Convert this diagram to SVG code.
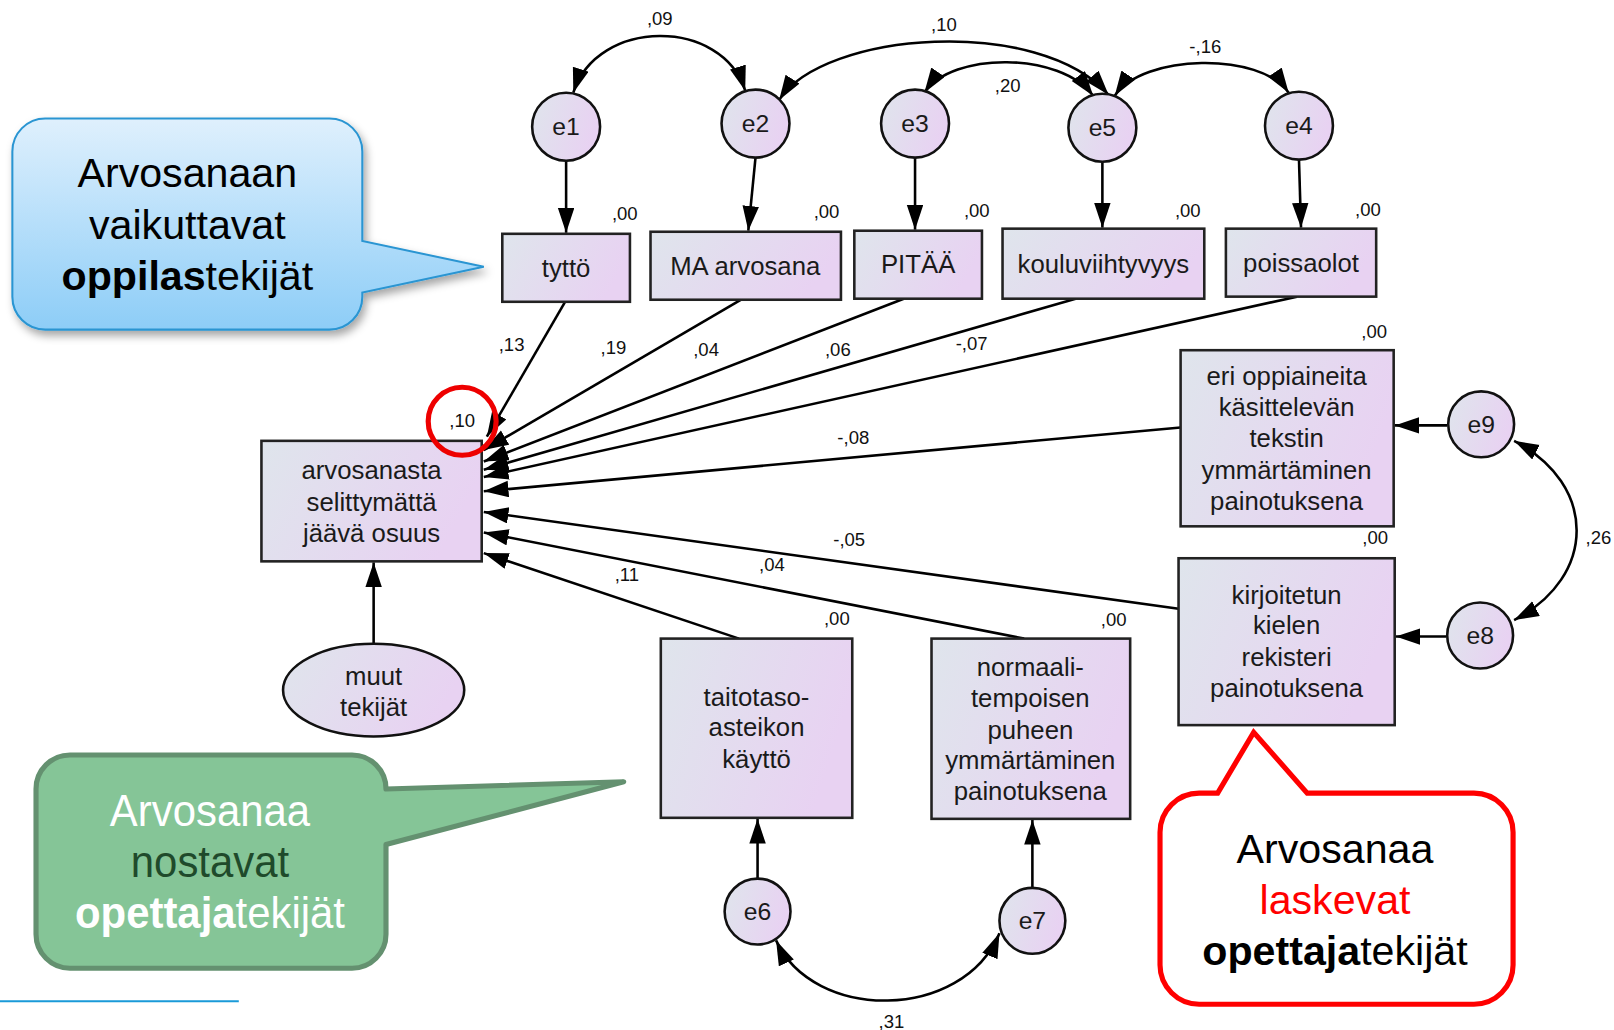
<svg xmlns="http://www.w3.org/2000/svg" width="1614" height="1030" viewBox="0 0 1614 1030">
<defs>
<linearGradient id="gNode" x1="0" y1="0" x2="1" y2="0.3">
<stop offset="0" stop-color="#dfe5ec"/>
<stop offset="1" stop-color="#e8d2f2"/>
</linearGradient>
<linearGradient id="gBlue" x1="0" y1="0" x2="0" y2="1">
<stop offset="0" stop-color="#dff0fd"/>
<stop offset="1" stop-color="#8dcdf7"/>
</linearGradient>
<filter id="sh" x="-10%" y="-10%" width="130%" height="130%">
<feDropShadow dx="3" dy="5" stdDeviation="4" flood-color="#000" flood-opacity="0.35"/>
</filter>
<marker id="ah" markerUnits="userSpaceOnUse" markerWidth="26" markerHeight="18" refX="24" refY="8" orient="auto-start-reverse">
<path d="M0,0 L24,8 L0,16 Z" fill="#000"/>
</marker>
</defs>
<style>
.box{fill:url(#gNode);stroke:#222;stroke-width:2.5}
.circ{fill:url(#gNode);stroke:#111;stroke-width:2.5}
.t{font-family:"Liberation Sans",Arial,sans-serif;font-size:25px;fill:#1a1a1a;text-anchor:middle}
.e{font-family:"Liberation Sans",Arial,sans-serif;font-size:24px;fill:#1a1a1a;text-anchor:middle}
.n{font-family:"Liberation Sans",Arial,sans-serif;font-size:18px;fill:#111;text-anchor:middle}
.c{fill:none;stroke:#000;stroke-width:2.5}
.a{marker-end:url(#ah)}
.b{marker-start:url(#ah);marker-end:url(#ah)}
.big{font-family:"Liberation Sans",Arial,sans-serif;font-size:40px;text-anchor:middle}
.nar{font-family:"Liberation Sans",Arial,sans-serif;font-size:44px;text-anchor:middle}
</style>
<rect width="1614" height="1030" fill="#fff"/>
<g transform="scale(1.0293 1.03)">

<g id="connectors">
<line class="c a" x1="550" y1="156" x2="550" y2="226"/>
<line class="c a" x1="734" y1="153" x2="727" y2="224"/>
<line class="c a" x1="889" y1="153" x2="889" y2="223"/>
<line class="c a" x1="1071" y1="157" x2="1071" y2="221"/>
<line class="c a" x1="1262" y1="155" x2="1264" y2="221"/>
<line class="c a" x1="1406" y1="413" x2="1355" y2="413"/>
<line class="c a" x1="1405" y1="618" x2="1356" y2="618"/>
<line class="c a" x1="736" y1="853" x2="736" y2="795"/>
<line class="c a" x1="1003" y1="862" x2="1003" y2="796"/>
<line class="c a" x1="363" y1="625" x2="363" y2="546"/>
<line class="c a" x1="549" y1="293" x2="473" y2="424"/>
<line class="c a" x1="720" y1="291" x2="470" y2="437"/>
<line class="c a" x1="878" y1="290" x2="470" y2="448"/>
<line class="c a" x1="1045" y1="290" x2="470" y2="456"/>
<line class="c a" x1="1260" y1="288" x2="470" y2="463"/>
<line class="c a" x1="1147" y1="415" x2="470" y2="477"/>
<line class="c a" x1="1145" y1="591" x2="470" y2="497"/>
<line class="c a" x1="995" y1="620" x2="470" y2="517"/>
<line class="c a" x1="718" y1="620" x2="470" y2="537"/>
<path class="c b" d="M557,90 C580,17 702,17 724,88"/>
<path class="c b" d="M757,97 C800,30 1010,15 1077,92"/>
<path class="c b" d="M898,90 C925,50 1030,50 1062,93"/>
<path class="c b" d="M1083,93 C1110,52 1225,50 1252,90"/>
<path class="c b" d="M1471,428 C1552,470 1552,560 1471,602"/>
<path class="c b" d="M754,913 C790,992 935,992 971,906"/>
<text class="n" x="641" y="24">,09</text>
<text class="n" x="917" y="30">,10</text>
<text class="n" x="979" y="89">,20</text>
<text class="n" x="1171" y="51">-,16</text>
<text class="n" x="1553" y="528">,26</text>
<text class="n" x="866" y="998">,31</text>
<text class="n" x="497" y="341">,13</text>
<text class="n" x="596" y="344">,19</text>
<text class="n" x="686" y="346">,04</text>
<text class="n" x="814" y="346">,06</text>
<text class="n" x="944" y="340">-,07</text>
<text class="n" x="829" y="431">-,08</text>
<text class="n" x="825" y="530">-,05</text>
<text class="n" x="750" y="554">,04</text>
<text class="n" x="609" y="564">,11</text>
</g>

<g id="e1"><circle class="circ" cx="550" cy="123" r="33"/><text class="e" x="550" y="131">e1</text></g>
<g id="e2"><circle class="circ" cx="734" cy="120" r="33"/><text class="e" x="734" y="128">e2</text></g>
<g id="e3"><circle class="circ" cx="889" cy="120" r="33"/><text class="e" x="889" y="128">e3</text></g>
<g id="e5"><circle class="circ" cx="1071" cy="124" r="33"/><text class="e" x="1071" y="132">e5</text></g>
<g id="e4"><circle class="circ" cx="1262" cy="122" r="33"/><text class="e" x="1262" y="130">e4</text></g>
<g id="e9"><circle class="circ" cx="1439" cy="412" r="32"/><text class="e" x="1439" y="420">e9</text></g>
<g id="e8"><circle class="circ" cx="1438" cy="617" r="32"/><text class="e" x="1438" y="625">e8</text></g>
<g id="e6"><circle class="circ" cx="736" cy="885" r="32"/><text class="e" x="736" y="893">e6</text></g>
<g id="e7"><circle class="circ" cx="1003" cy="894" r="32"/><text class="e" x="1003" y="902">e7</text></g>

<g id="tytto"><rect class="box" x="488" y="227" width="124" height="66"/><text class="t" x="550" y="269">tyttö</text><text class="n" x="607" y="214">,00</text></g>
<g id="ma"><rect class="box" x="632" y="225" width="185" height="66"/><text class="t" x="724" y="267">MA arvosana</text><text class="n" x="803" y="212">,00</text></g>
<g id="pitaa"><rect class="box" x="830" y="224" width="124" height="66"/><text class="t" x="892" y="265">PITÄÄ</text><text class="n" x="949" y="211">,00</text></g>
<g id="koulu"><rect class="box" x="974" y="222" width="196" height="68"/><text class="t" x="1072" y="265">kouluviihtyvyys</text><text class="n" x="1154" y="211">,00</text></g>
<g id="poissa"><rect class="box" x="1191" y="222" width="146" height="66"/><text class="t" x="1264" y="264">poissaolot</text><text class="n" x="1329" y="210">,00</text></g>

<g id="target"><rect class="box" x="254" y="428" width="214" height="117"/>
<text class="t" x="361" y="465">arvosanasta</text><text class="t" x="361" y="496">selittymättä</text><text class="t" x="361" y="526">jäävä osuus</text>
<text class="n" x="449" y="415">,10</text></g>

<g id="eri"><rect class="box" x="1147" y="340" width="207" height="171"/>
<text class="t" x="1250" y="374">eri oppiaineita</text><text class="t" x="1250" y="404">käsittelevän</text><text class="t" x="1250" y="434">tekstin</text><text class="t" x="1250" y="465">ymmärtäminen</text><text class="t" x="1250" y="495">painotuksena</text>
<text class="n" x="1335" y="328">,00</text></g>

<g id="kirj"><rect class="box" x="1145" y="542" width="210" height="162"/>
<text class="t" x="1250" y="586">kirjoitetun</text><text class="t" x="1250" y="616">kielen</text><text class="t" x="1250" y="647">rekisteri</text><text class="t" x="1250" y="677">painotuksena</text>
<text class="n" x="1336" y="528">,00</text></g>

<g id="taito"><rect class="box" x="642" y="620" width="186" height="174"/>
<text class="t" x="735" y="685">taitotaso-</text><text class="t" x="735" y="715">asteikon</text><text class="t" x="735" y="746">käyttö</text>
<text class="n" x="813" y="607">,00</text></g>

<g id="normaali"><rect class="box" x="905" y="620" width="193" height="175"/>
<text class="t" x="1001" y="656">normaali-</text><text class="t" x="1001" y="686">tempoisen</text><text class="t" x="1001" y="717">puheen</text><text class="t" x="1001" y="747">ymmärtäminen</text><text class="t" x="1001" y="777">painotuksena</text>
<text class="n" x="1082" y="608">,00</text></g>

<g id="muut"><ellipse class="circ" cx="363" cy="670" rx="88" ry="45"/>
<text class="t" x="363" y="665">muut</text><text class="t" x="363" y="695">tekijät</text></g>

<g id="highlight"><circle cx="449" cy="409" r="33" fill="none" stroke="#ee0000" stroke-width="5"/></g>

<g id="callout-blue">
<path d="M44,115 H320 A32,32 0 0 1 352,147 V234 L470,259 L352,284 V288 A32,32 0 0 1 320,320 H44 A32,32 0 0 1 12,288 V147 A32,32 0 0 1 44,115 Z" fill="url(#gBlue)" stroke="#2a95d2" stroke-width="2" filter="url(#sh)"/>
<text class="big" x="182" y="182" fill="#000">Arvosanaan</text>
<text class="big" x="182" y="232" fill="#000">vaikuttavat</text>
<text class="big" x="182" y="282" fill="#000"><tspan font-weight="bold">oppilas</tspan>tekijät</text>
</g>

<g id="callout-green">
<path d="M68,733 H342 A33,33 0 0 1 375,766 L606,759 L375,820 V907 A33,33 0 0 1 342,940 H68 A33,33 0 0 1 35,907 V766 A33,33 0 0 1 68,733 Z" fill="#85c597" stroke="#649170" stroke-width="5" stroke-linejoin="round"/>
<g transform="translate(204,0) scale(0.925,1)">
<text class="nar" x="0" y="802" fill="#fff">Arvosanaa</text>
<text class="nar" x="0" y="851" fill="#1f4a2b">nostavat</text>
<text class="nar" x="0" y="901" fill="#fff"><tspan font-weight="bold">opettaja</tspan>tekijät</text>
</g>
</g>

<g id="callout-red">
<path d="M1165,770 H1183 L1218,711 L1270,770 H1432 A38,38 0 0 1 1470,808 V937 A38,38 0 0 1 1432,975 H1165 A38,38 0 0 1 1127,937 V808 A38,38 0 0 1 1165,770 Z" fill="#fff" stroke="#ff0000" stroke-width="5"/>
<text class="big" x="1297" y="838" fill="#000">Arvosanaa</text>
<text class="big" x="1297" y="887" fill="#ff0000">laskevat</text>
<text class="big" x="1297" y="937" fill="#000"><tspan font-weight="bold">opettaja</tspan>tekijät</text>
</g>

<line x1="0" y1="972" x2="232" y2="972" stroke="#1a9ad8" stroke-width="2"/>
</g>
</svg>
